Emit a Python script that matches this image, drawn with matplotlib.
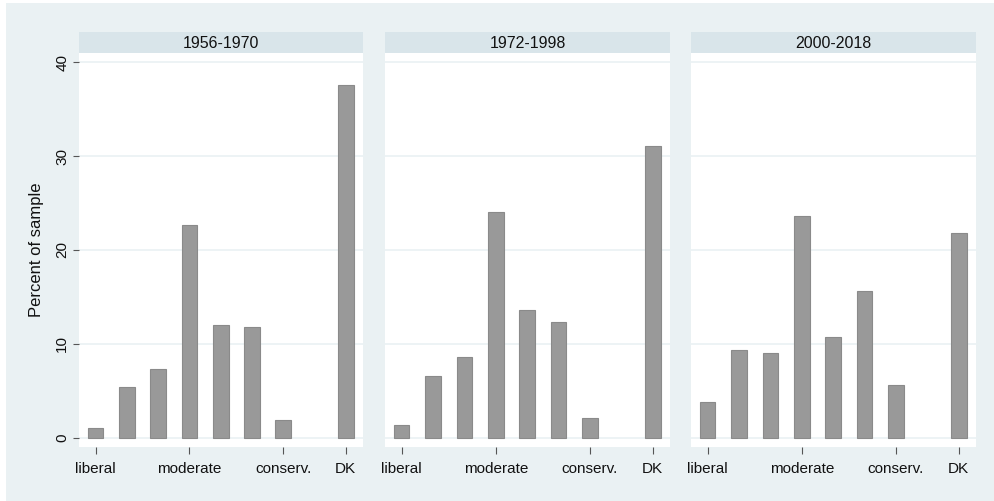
import matplotlib
matplotlib.use("Agg")
import matplotlib.pyplot as plt
from matplotlib.patches import Rectangle

plt.rcParams['font.family'] = ['Liberation Sans', 'DejaVu Sans']

# Data: percent of sample by ideology self-placement, per period
periods = ["1956-1970", "1972-1998", "2000-2018"]
positions = [1, 2, 3, 4, 5, 6, 7, 9]
pct_1956_1970 = [1.1, 5.45, 7.35, 22.7, 12.0, 11.8, 1.95, 37.6]
pct_1972_1998 = [1.4, 6.6, 8.6, 24.0, 13.6, 12.3, 2.1, 31.1]
pct_2000_2018 = [3.8, 9.4, 9.05, 23.6, 10.7, 15.6, 5.6, 21.8]
xtick_pos = [1, 4, 7, 9]
xtick_labels = ["liberal", "moderate", "conserv.", "DK"]
yticks = [0, 10, 20, 30, 40]

series = [pct_1956_1970, pct_1972_1998, pct_2000_2018]

W, H = 994, 501
fig = plt.figure(figsize=(W / 100, H / 100), dpi=100)
fig.patch.set_facecolor("white")

BG = "#EAF1F3"
HEADER = "#D9E5EA"
BAR = "#999999"
BAR_EDGE = "#8A8A8A"
GRID = "#EAF1F3"

# graph region background
fig.patches.append(Rectangle((6 / W, 0), 1 - 6 / W, 1 - 3 / H,
                             transform=fig.transFigure, facecolor=BG,
                             edgecolor="none", zorder=-10))

panel_x = [(79, 363), (385, 670), (691, 976)]
top_px, bot_px = 53, 447
head_top = 32

for i, ((x0, x1), title, vals) in enumerate(zip(panel_x, periods, series)):
    ax = fig.add_axes([x0 / W, 1 - bot_px / H, (x1 - x0) / W, (bot_px - top_px) / H])
    ax.set_facecolor("white")
    ax.bar(positions, vals, width=0.5, color=BAR, edgecolor=BAR_EDGE,
           linewidth=0.8, zorder=3)
    ax.set_xlim(0.47, 9.55)
    ax.set_ylim(-0.96, 40.96)
    ax.set_yticks(yticks)
    for y in yticks:
        ax.axhline(y, color=GRID, linewidth=1.2, zorder=1)
    for s in ax.spines.values():
        s.set_visible(False)
    ax.set_xticks(xtick_pos)
    ax.set_xticklabels(xtick_labels, fontsize=11, color="#111111")
    ax.tick_params(axis="x", length=5, width=0.8, color="#555555", pad=6)
    if i == 0:
        ax.set_yticklabels([str(t) for t in yticks], rotation=90,
                           va="center", fontsize=11, color="#111111")
        ax.tick_params(axis="y", length=4, width=0.8, color="#555555", pad=3)
        ax.set_ylabel("Percent of sample", fontsize=12, color="#111111", labelpad=8)
    else:
        ax.tick_params(axis="y", left=False, labelleft=False)

    hax = fig.add_axes([x0 / W, 1 - top_px / H, (x1 - x0) / W, (top_px - head_top) / H])
    hax.set_facecolor(HEADER)
    hax.set_xticks([])
    hax.set_yticks([])
    for s in hax.spines.values():
        s.set_visible(False)
    hax.text(0.5, 0.45, title, ha="center", va="center", fontsize=11.5,
             color="#111111", transform=hax.transAxes)

fig.savefig("out.png", dpi=100, facecolor=fig.get_facecolor())
